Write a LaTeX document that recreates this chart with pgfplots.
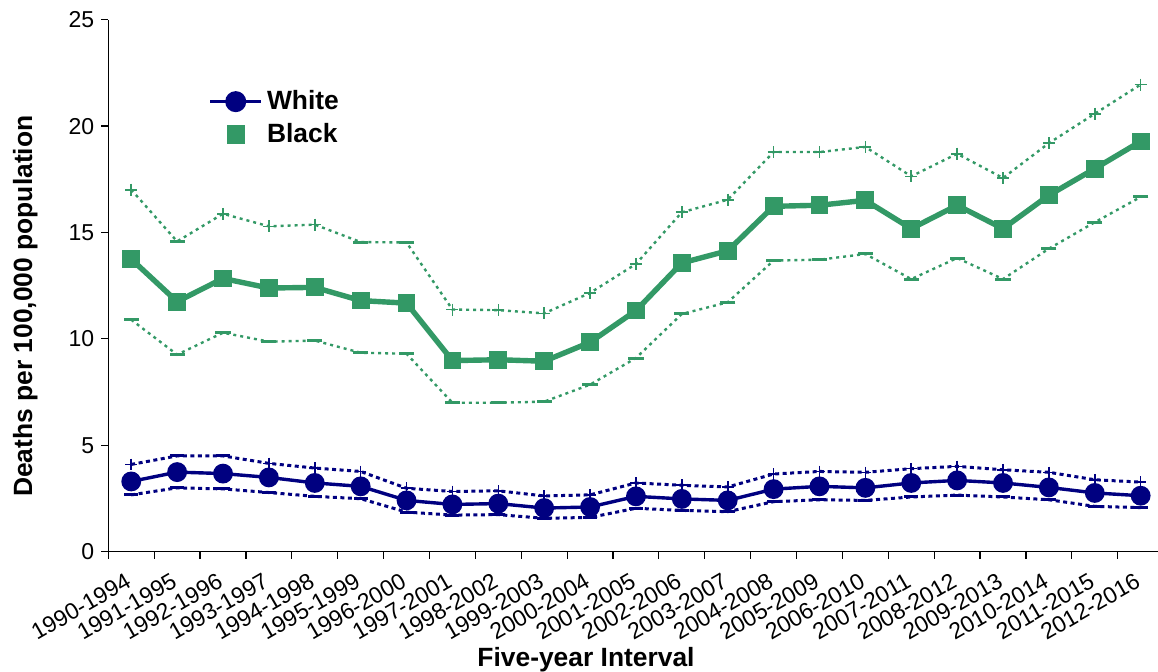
\documentclass[border=0pt]{standalone}
\usepackage{pgfplots}
\pgfplotsset{compat=1.18}
\usepackage{fontspec}
\setmainfont{Liberation Sans}
\definecolor{wnavy}{RGB}{0,0,128}
\definecolor{bgreen}{RGB}{51,153,102}
\pgfplotsset{widelegend/.style={legend image code/.code={\draw[mark repeat=2,mark phase=2,##1] plot coordinates {(0cm,0cm) (0.45cm,0cm) (0.9cm,0cm)};}}}
\pgfplotstableread{
x wm wu wl bm bu bl
0 3.30 4.10 2.67 13.75 17.01 10.90
1 3.74 4.50 3.00 11.75 14.58 9.26
2 3.67 4.50 2.95 12.84 15.88 10.29
3 3.49 4.15 2.78 12.39 15.29 9.87
4 3.23 3.93 2.60 12.42 15.37 9.92
5 3.07 3.77 2.49 11.80 14.55 9.35
6 2.41 2.98 1.86 11.68 14.53 9.30
7 2.22 2.83 1.72 8.98 11.38 7.00
8 2.26 2.86 1.74 9.02 11.35 7.00
9 2.05 2.62 1.57 8.95 11.20 7.05
10 2.10 2.67 1.61 9.84 12.16 7.85
11 2.60 3.23 2.04 11.33 13.52 9.10
12 2.48 3.12 1.94 13.57 15.95 11.17
13 2.41 3.04 1.88 14.14 16.54 11.72
14 2.94 3.65 2.35 16.23 18.78 13.68
15 3.07 3.77 2.44 16.28 18.78 13.72
16 3.00 3.73 2.41 16.51 19.02 13.99
17 3.23 3.90 2.57 15.18 17.64 12.81
18 3.35 4.01 2.66 16.28 18.70 13.80
19 3.23 3.85 2.57 15.18 17.56 12.81
20 3.02 3.73 2.44 16.75 19.20 14.24
21 2.76 3.38 2.13 18.00 20.58 15.48
22 2.63 3.27 2.07 19.28 21.95 16.67
}\data
\begin{document}
\begin{tikzpicture}
\path[use as bounding box] (0,0) rectangle (579pt,336pt);
\begin{axis}[
  scale only axis,
  width=527.65pt, height=266pt,
  at={(54.15pt,60.15pt)}, anchor=south west,
  xmin=-0.5, xmax=22.5, ymin=0, ymax=25,
  axis lines=left,
  axis line style={line width=0.6pt, -},
  xtick={0,...,22},
  xticklabels={1990-1994,1991-1995,1992-1996,1993-1997,1994-1998,1995-1999,1996-2000,1997-2001,1998-2002,1999-2003,2000-2004,2001-2005,2002-2006,2003-2007,2004-2008,2005-2009,2006-2010,2007-2011,2008-2012,2009-2013,2010-2014,2011-2015,2012-2016},
  major x tick style={draw=none},
  minor xtick={-0.5,0.5,...,21.5},
  ytick={0,5,...,25},
  tick align=outside,
  major tick length=3.5pt, minor tick length=3.5pt,
  tick style={line width=0.6pt, black},
  /pgf/number format/assume math mode=true,
  yticklabel style={font=\fontsize{11.5}{13}\selectfont},
  xticklabel style={font=\fontsize{11.5}{13}\selectfont, xshift=-3pt, yshift=-5pt, rotate=30, anchor=north east, inner sep=1pt},
  xlabel={\textbf{Five-year Interval}},
  ylabel={\textbf{Deaths per 100,000 population}},
  label style={font=\fontsize{13.2}{15}\selectfont},
  xlabel style={at={(axis description cs:0.4527,-0.216)}, anchor=base},
  ylabel style={at={(axis description cs:-0.0723,0.4615)}, anchor=base},
  legend style={at={(axis description cs:0.0945,0.875)}, anchor=north west, draw=none, fill=none,
    font=\fontsize{13.2}{15.5}\selectfont\bfseries, row sep=1.2pt, inner sep=0pt,
    /tikz/every even column/.append style={column sep=3pt}},
  legend cell align=left,
  widelegend,
  clip=false,
]
\addlegendimage{wnavy, line width=1.7pt, mark=*, mark size=4.4pt, mark options={solid}}
\addlegendentry{White}
\addlegendimage{only marks, bgreen, mark=square*, mark size=4.4pt, widelegend}
\addlegendentry{Black}

% Black CI
\addplot[forget plot, bgreen, line width=1.2pt, dash pattern=on 1.5pt off 2pt, mark=+, mark size=3pt,
  mark options={solid, line width=0.8pt}, mark indices={1,3,4,5,8,9,10,11,12,13,14,15,16,17,18,19,20,21,22,23}]
  table[x=x, y=bu] {\data};
\addplot[forget plot, only marks, bgreen, mark=-, mark size=3.8pt, mark options={solid, line width=1.5pt},
  mark indices={2,6,7}] table[x=x, y=bu] {\data};
\addplot[forget plot, bgreen, line width=1.2pt, dash pattern=on 1.5pt off 2pt, mark=-, mark size=3.8pt,
  mark options={solid, line width=1.5pt}] table[x=x, y=bl] {\data};
\addplot[forget plot, bgreen, line width=2.7pt, mark=square*, mark size=4.2pt, mark options={solid, line width=0.5pt}]
  table[x=x, y=bm] {\data};

% White CI
\addplot[forget plot, wnavy, line width=1.5pt, dash pattern=on 2pt off 1.75pt, mark=+, mark size=2.9pt,
  mark options={solid, line width=0.8pt}, mark indices={1,4,5,6,7,8,9,10,11,12,13,14,15,16,17,18,19,20,21,22,23}]
  table[x=x, y=wu] {\data};
\addplot[forget plot, only marks, wnavy, mark=-, mark size=3.5pt, mark options={solid, line width=1.5pt},
  mark indices={2,3}] table[x=x, y=wu] {\data};
\addplot[forget plot, wnavy, line width=1.5pt, dash pattern=on 2pt off 1.75pt, mark=-, mark size=3.5pt,
  mark options={solid, line width=1.5pt}] table[x=x, y=wl] {\data};
\addplot[forget plot, wnavy, line width=1.7pt, mark=*, mark size=4.1pt, mark options={solid}]
  table[x=x, y=wm] {\data};
\end{axis}
\end{tikzpicture}
\end{document}
